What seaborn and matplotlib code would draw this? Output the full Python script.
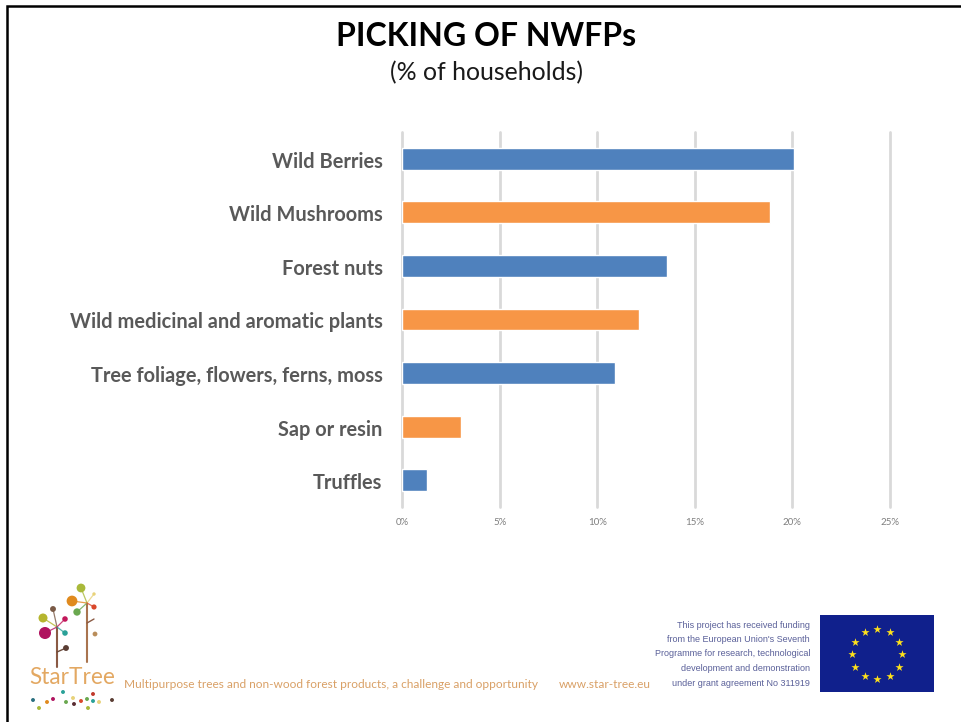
import matplotlib
matplotlib.use('Agg')
import matplotlib.pyplot as plt
from matplotlib.patches import Rectangle
from matplotlib.transforms import ScaledTranslation
import numpy as np
import pandas as pd
import seaborn as sns

# values
products = ['Wild Berries', 'Wild Mushrooms', 'Forest nuts', 'Wild medicinal and aromatic plants',
            'Tree foliage, flowers, ferns, moss', 'Sap or resin', 'Truffles']
households = [20.1, 18.85, 13.6, 12.15, 10.9, 3.0, 1.3]
bar_colors = ['#4f81bd', '#f79646', '#4f81bd', '#f79646', '#4f81bd', '#f79646', '#4f81bd']
x_ticks = [0, 5, 10, 15, 20, 25]

funding_lines = ['This project has received funding', "from the European Union's Seventh",
                 'Programme for research, technological', 'development and demonstration',
                 'under grant agreement No 311919']

sns.set_theme(style='white')
plt.rcParams['font.family'] = ['Lato', 'DejaVu Sans']

W, H = 961, 722
fig = plt.figure(figsize=(W / 100, H / 100), dpi=100, facecolor='white')

# Main chart
ax = fig.add_axes([402 / W, 1 - 507 / H, (890 - 402) / W, (507 - 132) / H])
df = pd.DataFrame({'product': products, 'households': households})
sns.barplot(data=df, x='households', y='product', hue='product', palette=bar_colors,
            width=0.41, legend=False, ax=ax, zorder=3, saturation=1)
ax.set_xlim(0, 25)
ax.set_ylim(6.5, -0.5)
ax.set_xticks(x_ticks)
ax.set_xticklabels([f'{t}%' for t in x_ticks], fontsize=7, color='#7f7f7f')
ax.set_xlabel('')
ax.set_ylabel('')
ax.grid(axis='x', color='#d9d9d9', lw=2)
ax.grid(axis='y', visible=False)
for line in ax.get_xgridlines():
    line.set_clip_on(False)
sns.despine(ax=ax, left=True, bottom=True, right=True, top=True)
ax.tick_params(axis='x', length=0, pad=8)
ax.tick_params(axis='y', length=0, pad=14)
nudge = ScaledTranslation(0, -1 / 100, fig.dpi_scale_trans)
for label in ax.get_yticklabels():
    label.set_fontsize(14.4)
    label.set_fontweight('bold')
    label.set_color('#595959')
    label.set_transform(label.get_transform() + nudge)

# Overlay in pixel coordinates for the slide furniture
slide = fig.add_axes([0, 0, 1, 1], zorder=5)
slide.set_xlim(0, W)
slide.set_ylim(H, 0)
slide.axis('off')
slide.patch.set_alpha(0)

# Slide border
slide.plot([6.5, 6.5, W], [H, 5.5, 5.5], color='black', lw=1.8, solid_joinstyle='miter')

slide.text(486, 36, 'PICKING OF NWFPs', fontsize=23, fontweight='bold', color='black',
           ha='center', va='center')
slide.text(486, 73, '(% of households)', fontsize=17.9, color='#1a1a1a', ha='center', va='center')

# StarTree logo
hubs = [(57, 627), (87, 603)]
slide.plot([57, 57], [628, 667], color='#8a5a44', lw=1.5)
slide.plot([87, 87], [603, 662], color='#a9744f', lw=1.5)
slide.plot([57, 66], [652, 648], color='#6b4a3a', lw=1)
slide.plot([87, 94], [623, 619], color='#8a5a44', lw=1)
logo_x = [81, 72, 77, 94, 94, 53, 43, 65, 45, 65]
logo_y = [588, 601, 612, 594, 607, 609, 618, 619, 633, 633]
logo_s = [40, 60, 28, 6, 14, 18, 42, 16, 75, 16]
logo_c = ['#a9b93a', '#e08a1e', '#6aa84f', '#e8d27a', '#d9472b', '#7a5a46',
          '#b5b52e', '#c2185b', '#b0135f', '#2aa198']
tree_of = [1, 1, 1, 1, 1, 0, 0, 0, 0, 0]
for x1, y1, c, t in zip(logo_x, logo_y, logo_c, tree_of):
    slide.plot([hubs[t][0], x1], [hubs[t][1], y1], color=c, lw=0.9, alpha=0.8)
slide.scatter(logo_x, logo_y, s=logo_s, c=logo_c, linewidths=0, zorder=3)
slide.scatter([95, 66], [634, 648], s=[12, 18], c=['#b98d5a', '#5a3d33'], linewidths=0, zorder=3)
slide.text(29, 677, 'StarTree', fontsize=16.3, color='#e3a862', va='center')
dots_x = [33, 39, 47, 53, 63, 66, 74, 73, 81, 87, 93, 93, 88, 99, 112]
dots_y = [700, 708, 702, 699, 692, 702, 704, 698, 701, 699, 694, 701, 708, 702, 700]
dots_c = ['#2a6f7f', '#a9b93a', '#e08a1e', '#b0135f', '#2aa198', '#6aa84f', '#5a2d33', '#e8d27a',
          '#d9472b', '#6aa84f', '#c0392b', '#2aa198', '#a9b93a', '#e8d27a', '#5a3d33']
slide.scatter(dots_x, dots_y, s=8, c=dots_c, linewidths=0)
slide.text(124, 684, 'Multipurpose trees and non-wood forest products, a challenge and opportunity',
           fontsize=8.55, color='#d9a066', va='center')
slide.text(559, 684, 'www.star-tree.eu', fontsize=8.55, color='#d9a066', va='center')

# Funding note and EU flag
for i, line in enumerate(funding_lines):
    slide.text(810, 625 + i * 14.5, line, fontsize=6.45, color='#5a6099', ha='right', va='center',
               family='Liberation Sans')
slide.add_patch(Rectangle((820, 615), 114, 77, color='#10208c', lw=0))
angles = np.deg2rad(np.arange(0, 360, 30))
slide.scatter(877 + 25 * np.cos(angles), 654 + 25 * np.sin(angles), marker='*', s=38,
              color='#ffe11a', linewidths=0)

fig.savefig('out.png', dpi=100)
